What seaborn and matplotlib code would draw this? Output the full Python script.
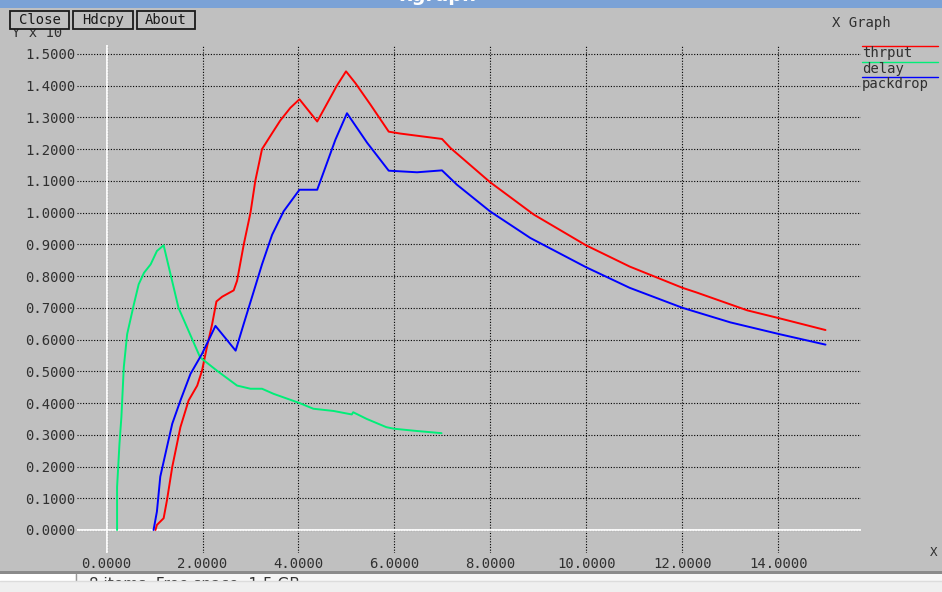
import numpy as np
import pandas as pd
import matplotlib
matplotlib.use("Agg")
import matplotlib.pyplot as plt
from matplotlib.patches import Rectangle
from matplotlib.lines import Line2D
import seaborn as sns

# ---------------- data ----------------
series_names = ["thrput", "delay", "packdrop"]
series_colors = ["#ff0000", "#00ee78", "#0000ff"]

thrput_x = [1.02, 1.05, 1.19, 1.26, 1.37, 1.54, 1.71, 1.89, 1.99, 2.09, 2.20, 2.29,
            2.41, 2.65, 2.72, 2.86, 3.00, 3.10, 3.24, 3.45, 3.62, 3.83, 4.02, 4.39,
            4.80, 4.99, 5.19, 5.50, 5.88, 6.12, 6.99, 7.17, 7.37, 7.99, 8.90, 9.99,
            10.90, 12.00, 12.30, 13.35, 14.02, 14.98]
thrput_y = [0.000, 0.016, 0.037, 0.094, 0.199, 0.324, 0.408, 0.455, 0.502, 0.575, 0.648, 0.720,
            0.735, 0.755, 0.785, 0.900, 1.000, 1.100, 1.200, 1.250, 1.290, 1.330, 1.357, 1.287,
            1.400, 1.445, 1.407, 1.340, 1.255, 1.249, 1.232, 1.203, 1.177, 1.096, 0.994, 0.897,
            0.830, 0.763, 0.748, 0.692, 0.667, 0.630]

delay_x = [0.22, 0.22, 0.27, 0.31, 0.36, 0.43, 0.57, 0.67, 0.78, 0.92, 1.05, 1.19,
           1.50, 1.95, 2.30, 2.72, 3.00, 3.24, 3.48, 4.02, 4.31, 4.73, 5.11, 5.14,
           5.42, 5.83, 5.99, 6.46, 6.98]
delay_y = [0.000, 0.135, 0.272, 0.356, 0.513, 0.617, 0.711, 0.774, 0.810, 0.837, 0.879, 0.897,
           0.700, 0.544, 0.502, 0.455, 0.445, 0.445, 0.429, 0.400, 0.382, 0.375, 0.364, 0.371,
           0.350, 0.324, 0.319, 0.312, 0.305]

packdrop_x = [0.98, 1.05, 1.12, 1.26, 1.37, 1.54, 1.75, 1.99, 2.27, 2.69, 2.86, 3.07,
              3.24, 3.45, 3.69, 4.02, 4.39, 4.53, 4.77, 5.01, 5.43, 5.88, 6.47, 6.99,
              7.30, 7.99, 8.83, 9.99, 10.90, 12.00, 13.00, 14.02, 14.98]
packdrop_y = [0.000, 0.058, 0.168, 0.262, 0.335, 0.408, 0.492, 0.555, 0.643, 0.565, 0.650, 0.753,
              0.837, 0.930, 1.004, 1.072, 1.072, 1.130, 1.230, 1.313, 1.220, 1.132, 1.127, 1.133,
              1.088, 1.004, 0.920, 0.828, 0.763, 0.700, 0.654, 0.617, 0.584]

x_ticks = [0, 2, 4, 6, 8, 10, 12, 14]
y_ticks = [0.0, 0.1, 0.2, 0.3, 0.4, 0.5, 0.6, 0.7, 0.8, 0.9, 1.0, 1.1, 1.2, 1.3, 1.4, 1.5]

# ---------------- style ----------------
BG = "#c0c0c0"
TXT = "#303030"
sns.set_style("white")
plt.rcParams["font.family"] = ["DejaVu Sans Mono", "DejaVu Sans"]

W, H = 942, 592
fig = plt.figure(figsize=(W / 100, H / 100), dpi=100, facecolor=BG)

def fx(px):
    return px / W

def fy(py):
    return 1 - py / H

ax_l, ax_r, ax_t, ax_b = 77, 861, 45, 553
ax = fig.add_axes([fx(ax_l), fy(ax_b), (ax_r - ax_l) / W, (ax_b - ax_t) / H])
ax.set_facecolor(BG)

frames = []
for name, xs, ys in [("thrput", thrput_x, thrput_y),
                     ("delay", delay_x, delay_y),
                     ("packdrop", packdrop_x, packdrop_y)]:
    frames.append(pd.DataFrame({"x": xs, "y": ys, "series": name}))
df = pd.concat(frames, ignore_index=True)

sns.lineplot(data=df, x="x", y="y", hue="series", hue_order=series_names,
             palette=dict(zip(series_names, series_colors)), units="series",
             estimator=None, sort=False, legend=False, linewidth=1.4, ax=ax, zorder=3)

ax.set_xlim(-0.615, 15.72)
ax.set_ylim(-0.0725, 1.528)
ax.set_xticks(x_ticks)
ax.set_xticklabels([f"{v:.4f}" for v in x_ticks])
ax.set_yticks(y_ticks)
ax.set_yticklabels([f"{v:.4f}" for v in y_ticks])
ax.tick_params(length=0, labelsize=10, labelcolor=TXT)
ax.tick_params(axis="y", pad=1)
ax.tick_params(axis="x", pad=3)
ax.set_xlabel("")
ax.set_ylabel("")
for s in ax.spines.values():
    s.set_visible(False)
ax.grid(True, color="black", linestyle=(0, (1, 1.5)), linewidth=0.8, zorder=1)
ax.set_axisbelow(True)
ax.axhline(0, color="white", linewidth=1.3, zorder=2)
ax.axvline(0, color="white", linewidth=1.3, zorder=2)

# ---------------- window chrome ----------------
fig.add_artist(Rectangle((0, fy(8)), 1, 8 / H, transform=fig.transFigure,
                         facecolor="#7ba2d6", edgecolor="none", zorder=1))
fig.text(fx(438), fy(1), "xgraph", color="white", fontsize=14, fontweight="bold",
         ha="center", va="baseline", family="DejaVu Sans", zorder=2)

# "Y x 10^3" partly hidden by the buttons
fig.text(fx(12), fy(33), "Y x 10", color=TXT, fontsize=10, ha="left", va="center", zorder=2)
fig.text(fx(61), fy(26), "3", color=TXT, fontsize=7.5, ha="left", va="center", zorder=2)

for label, x0, x1 in [("Close", 10, 69), ("Hdcpy", 73, 133), ("About", 137, 195)]:
    fig.add_artist(Rectangle((fx(x0), fy(29)), (x1 - x0) / W, 18 / H,
                             transform=fig.transFigure, facecolor=BG,
                             edgecolor="#1a1a1a", linewidth=1.3, zorder=4))
    fig.text(fx((x0 + x1) / 2), fy(20), label, color="#1a1a1a", fontsize=10,
             ha="center", va="center", zorder=5)

fig.text(fx(861), fy(23), "X Graph", color=TXT, fontsize=10, ha="center", va="center")

# legend
for i, (name, col) in enumerate(zip(series_names, series_colors)):
    ly = 46 + i * 15.7
    fig.add_artist(Line2D([fx(862), fx(938)], [fy(ly), fy(ly)], transform=fig.transFigure,
                          color=col, linewidth=1.0, zorder=3))
    fig.text(fx(862), fy(ly + 7), name, color=TXT, fontsize=10, ha="left", va="center")

fig.text(fx(934), fy(553), "X", color=TXT, fontsize=9, ha="center", va="center")

# bottom status strips
fig.add_artist(Rectangle((0, fy(574)), 1, 3 / H, transform=fig.transFigure,
                         facecolor="#8a8a8a", edgecolor="none", zorder=1))
fig.add_artist(Rectangle((0, fy(581)), 1, 7 / H, transform=fig.transFigure,
                         facecolor="#f6f6f6", edgecolor="none", zorder=1))
fig.add_artist(Rectangle((0, fy(581)), fx(75), 7 / H, transform=fig.transFigure,
                         facecolor="#ffffff", edgecolor="none", zorder=1))
fig.add_artist(Line2D([fx(76), fx(76)], [fy(574), fy(581)], transform=fig.transFigure,
                      color="#999999", linewidth=1.0, zorder=2))
fig.text(fx(89), fy(584), "8 items, Free space: 1.5 GB", color="#333333", fontsize=11,
         family="DejaVu Sans", ha="left", va="center", zorder=2)
fig.add_artist(Rectangle((0, 0), 1, 11 / H, transform=fig.transFigure,
                         facecolor="#efefef", edgecolor="none", zorder=6))
fig.add_artist(Line2D([0, 1], [fy(581), fy(581)], transform=fig.transFigure,
                      color="#dcdcdc", linewidth=1.0, zorder=7))

fig.savefig("out.png", dpi=100, facecolor=BG)
